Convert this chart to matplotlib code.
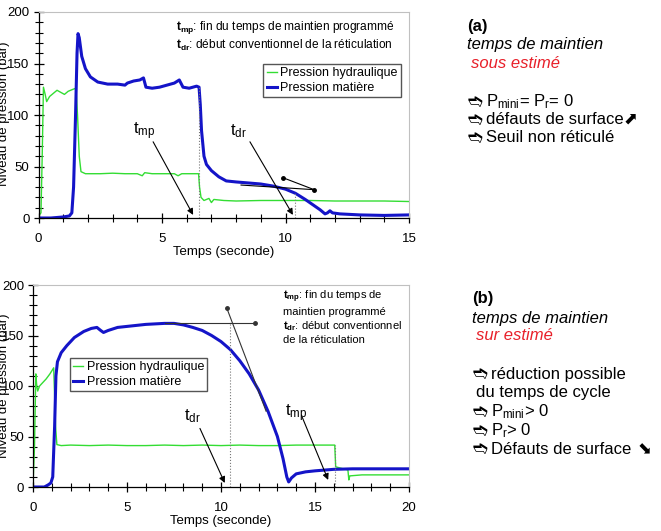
import matplotlib
matplotlib.use("Agg")
import matplotlib.pyplot as plt
from matplotlib.ticker import MultipleLocator

plt.rcParams['font.family'] = ['Liberation Sans', 'DejaVu Sans']
plt.rcParams['mathtext.fontset'] = 'custom'
plt.rcParams['mathtext.rm'] = 'Liberation Sans'
plt.rcParams['mathtext.it'] = 'Liberation Sans:italic'
plt.rcParams['mathtext.bf'] = 'Liberation Sans:bold'

# ---- data (a) : temps de maintien sous estimé ----
t_hyd_a = [0, 0.1, 0.15, 0.2, 0.27, 0.33, 0.45, 0.6, 0.75, 0.9, 1.05, 1.2, 1.4, 1.52,
           1.58, 1.65, 1.72, 1.9, 2.5, 3.0, 3.5, 4.0, 4.2, 4.3, 4.6, 5.0, 5.5, 5.65,
           5.8, 6.2, 6.48, 6.52, 6.58, 6.7, 6.9, 7.0, 7.1, 7.5, 8.0, 9.0, 10.0, 11.0,
           12.0, 13.0, 14.0, 15.0]
p_hyd_a = [2, 5, 60, 127, 120, 113, 118, 121, 124, 122, 120, 123, 125, 126,
           100, 60, 45, 43, 43, 43.5, 43, 43, 41, 44, 43, 43, 43, 41,
           43, 43, 43, 30, 20, 17, 19, 15, 18, 17, 16.5, 17, 17, 17,
           16.5, 16.5, 16.5, 16]

t_mat_a = [0, 0.5, 1.0, 1.25, 1.35, 1.42, 1.5, 1.56, 1.6, 1.65, 1.75, 1.9, 2.1, 2.4,
           2.8, 3.2, 3.5, 3.6, 3.85, 4.1, 4.25, 4.35, 4.6, 4.9, 5.2, 5.5, 5.7, 5.85,
           6.1, 6.4, 6.5, 6.55, 6.6, 6.7, 6.8, 7.0, 7.3, 7.6, 8.0, 8.5, 9.0, 9.5,
           10.0, 10.4, 10.8, 11.1, 11.4, 11.6, 11.7, 11.8, 11.9, 12.2, 13.0, 14.0, 15.0]
p_mat_a = [0, 0, 1, 2, 5, 30, 100, 160, 179, 175, 157, 145, 137, 132,
           130, 130, 129, 131, 133, 134, 136, 127, 126, 127, 129, 131, 134, 127,
           126, 128, 127, 110, 85, 60, 52, 46, 40, 36, 35, 34, 33, 31,
           28, 24, 18, 13, 8, 4, 5, 7, 5, 4, 3, 2.5, 3]

# ---- data (b) : temps de maintien sur estimé ----
t_hyd_b = [0, 0.08, 0.15, 0.2, 0.25, 0.35, 0.5, 0.7, 0.9, 1.1, 1.15, 1.2, 1.27, 1.5,
           2, 3, 4, 5, 6, 7, 8, 9, 10, 11, 12, 13, 14, 15, 16.05, 16.1, 16.5,
           16.75, 16.8, 16.85, 17.5, 18.5, 20]
p_hyd_b = [2, 40, 112, 100, 95, 100, 103, 107, 112, 118, 90, 60, 42, 41,
           41.5, 41, 41.5, 41, 41, 41.5, 41, 41.5, 41, 41.5, 41, 41, 41.5, 41.5, 41.5, 20, 18,
           17, 7, 11, 12, 12, 12]

t_mat_b = [0, 0.6, 0.8, 0.95, 1.05, 1.15, 1.22, 1.3, 1.5, 1.8, 2.2, 2.7, 3.1, 3.4,
           3.6, 3.75, 4.0, 4.5, 5.0, 5.5, 6.0, 6.5, 7.0, 7.5, 8.0, 8.5, 9.0, 9.5,
           10.0, 10.5, 11.0, 11.5, 12.0, 12.5, 13.0, 13.3, 13.5, 13.6, 13.75, 14.0,
           14.5, 15.0, 16.0, 17.0, 18.0, 20.0]
p_mat_b = [0, 0, 2, 4, 10, 60, 110, 124, 133, 140, 148, 154, 157, 158,
           155, 153, 155, 158, 159, 160, 161, 161.5, 162, 162, 160.5, 158, 155, 150,
           144, 136, 125, 112, 96, 75, 50, 28, 10, 5, 9, 13,
           15, 16, 17.5, 18, 18, 18]

# repères t_mp / t_dr (temps)
tmp_a, tdr_a = 6.5, 10.4
tmp_b, tdr_b = 16.05, 10.5

green = '#33dd33'
blue = '#1414c8'

fig = plt.figure(figsize=(6.61, 5.31), dpi=100)
W, H = 661, 531


def fx(px):
    return px / W


def fy(py):
    return 1 - py / H


def style_axes(ax, xmax):
    ax.set_xlim(0, xmax)
    ax.set_ylim(0, 200)
    ax.xaxis.set_major_locator(MultipleLocator(5))
    ax.xaxis.set_minor_locator(MultipleLocator(1))
    ax.yaxis.set_major_locator(MultipleLocator(50))
    ax.yaxis.set_minor_locator(MultipleLocator(10))
    ax.tick_params(which='major', direction='inout', length=7, width=0.9,
                   labelsize=9.5, top=False, right=False)
    ax.tick_params(which='minor', direction='inout', length=6, width=0.8,
                   top=False, right=False)
    ax.tick_params(axis='x', pad=7)
    ax.tick_params(axis='y', pad=3)
    for s in ['top', 'right']:
        ax.spines[s].set_color('#c0c0c0')
    for s in ['left', 'bottom']:
        ax.spines[s].set_linewidth(0.9)
    ax.set_xlabel('Temps (seconde)', fontsize=9.5, labelpad=1)


def arrow(ax, xy, xytext):
    ax.annotate('', xy=xy, xytext=xytext,
                arrowprops=dict(arrowstyle='-|>', color='k', lw=0.8,
                                mutation_scale=9, shrinkA=0, shrinkB=0))


# ---------------- (a) ----------------
ax1 = fig.add_axes([fx(38.5), fy(218), (409 - 38.5) / W, 206 / H])
style_axes(ax1, 15)
ax1.plot(t_hyd_a, p_hyd_a, color=green, lw=1, label='Pression hydraulique')
ax1.plot(t_mat_a, p_mat_a, color=blue, lw=2.2, label='Pression matière')
ax1.plot([tmp_a, tmp_a], [0, 128], color='#777777', ls=':', lw=0.8)
ax1.plot([tdr_a, tdr_a], [0, 24], color='#777777', ls=':', lw=0.8)
ax1.plot([9.91, 11.16], [39, 27.5], color='k', lw=0.8, marker='o', ms=2.5)
ax1.plot([8.2, 11.16], [32, 27.5], color='k', lw=0.8)
ax1.text(4.3, 84, r'$\mathrm{t_{mp}}$', fontsize=12, ha='center', va='center')
ax1.text(8.1, 84, r'$\mathrm{t_{dr}}$', fontsize=12, ha='center', va='center')
arrow(ax1, (6.26, 3), (4.64, 74))
arrow(ax1, (10.3, 3), (8.56, 74))
ax1.legend(loc='upper right', bbox_to_anchor=(0.978, 0.748), fontsize=9,
           frameon=True, fancybox=False, edgecolor='#555555', framealpha=1,
           handlelength=0.8, handletextpad=0.3, labelspacing=0.25,
           borderpad=0.25, borderaxespad=0)

fig.text(fx(176), fy(28), r'$\mathbf{t_{mp}}$: fin du temps de maintien programmé',
         fontsize=8.6, va='center')
fig.text(fx(176), fy(45), r'$\mathbf{t_{dr}}$: début conventionnel de la réticulation',
         fontsize=8.6, va='center')

# ---------------- (b) ----------------
ax2 = fig.add_axes([fx(33), fy(487), (409 - 33) / W, 202 / H])
style_axes(ax2, 20)
ax2.plot(t_hyd_b, p_hyd_b, color=green, lw=1, label='Pression hydraulique')
ax2.plot(t_mat_b, p_mat_b, color=blue, lw=2.2, label='Pression matière')
ax2.plot([tdr_b, tdr_b], [0, 163], color='#777777', ls=':', lw=0.8)
ax2.plot([tmp_b, tmp_b], [0, 42], color='#777777', ls=':', lw=0.8)
ax2.plot([7.0, 11.8], [162.5, 162.5], color='#333333', lw=0.8,
         marker='o', ms=2.5, markevery=[1])
ax2.plot([10.3, 12.4], [177.5, 75], color='#333333', lw=0.8,
         marker='o', ms=2.5, markevery=[0])
ax2.text(8.5, 70, r'$\mathrm{t_{dr}}$', fontsize=12, ha='center', va='center')
ax2.text(14.0, 73, r'$\mathrm{t_{mp}}$', fontsize=12, ha='center', va='center')
arrow(ax2, (10.2, 4), (8.88, 58))
arrow(ax2, (15.7, 7), (14.3, 70))
ax2.legend(loc='upper left', bbox_to_anchor=(0.098, 0.639), fontsize=9,
           frameon=True, fancybox=False, edgecolor='#555555', framealpha=1,
           handlelength=0.8, handletextpad=0.3, labelspacing=0.25,
           borderpad=0.25, borderaxespad=0)

for py, s in [(297, r'$\mathbf{t_{mp}}$: fin du temps de'),
              (311.7, 'maintien programmé'),
              (326, r'$\mathbf{t_{dr}}$: début conventionnel'),
              (340, 'de la réticulation')]:
    fig.text(fx(283), fy(py), s, fontsize=8, va='center')

# y labels (partly cut by the left edge, as in the original)
fig.text(fx(4), fy(114), 'Niveau de pression (bar)', rotation=90,
         fontsize=9.5, ha='center', va='center')
fig.text(fx(4), fy(386), 'Niveau de pression (bar)', rotation=90,
         fontsize=9.5, ha='center', va='center')

# ---------------- commentaires ----------------
bullet = '\u27ac'
fs = 12


def bline(px, py, s):
    fig.text(fx(px), fy(py), bullet, fontsize=13, family='DejaVu Sans', va='center')
    fig.text(fx(px + 18), fy(py), s, fontsize=fs, va='center')


fig.text(fx(467), fy(27), '(a)', fontsize=fs, fontweight='bold', va='center')
fig.text(fx(467), fy(45), 'temps de maintien', fontsize=fs, style='italic', va='center')
fig.text(fx(471), fy(63), 'sous estimé', fontsize=fs, style='italic', color='#e8202a',
         va='center')
bline(468, 102, r'P$_\mathrm{mini}$= P$_\mathrm{r}$= 0')
bline(468, 120, 'défauts de surface')
fig.text(fx(624), fy(120), '\u2b08', fontsize=12, family='DejaVu Sans', va='center')
bline(468, 138, 'Seuil non réticulé')

fig.text(fx(472), fy(298), '(b)', fontsize=fs, fontweight='bold', va='center')
fig.text(fx(472), fy(318), 'temps de maintien', fontsize=fs, style='italic', va='center')
fig.text(fx(476), fy(336), 'sur estimé', fontsize=fs, style='italic', color='#e8202a',
         va='center')
bline(473, 374, 'réduction possible')
fig.text(fx(476), fy(393), 'du temps de cycle', fontsize=fs, va='center')
bline(473, 412, r'P$_\mathrm{mini}$> 0')
bline(473, 431, r'P$_\mathrm{r}$> 0')
bline(473, 449, 'Défauts de surface')
fig.text(fx(638), fy(449), '\u2b0a', fontsize=12, family='DejaVu Sans', va='center')

fig.savefig('out.png', dpi=100)
